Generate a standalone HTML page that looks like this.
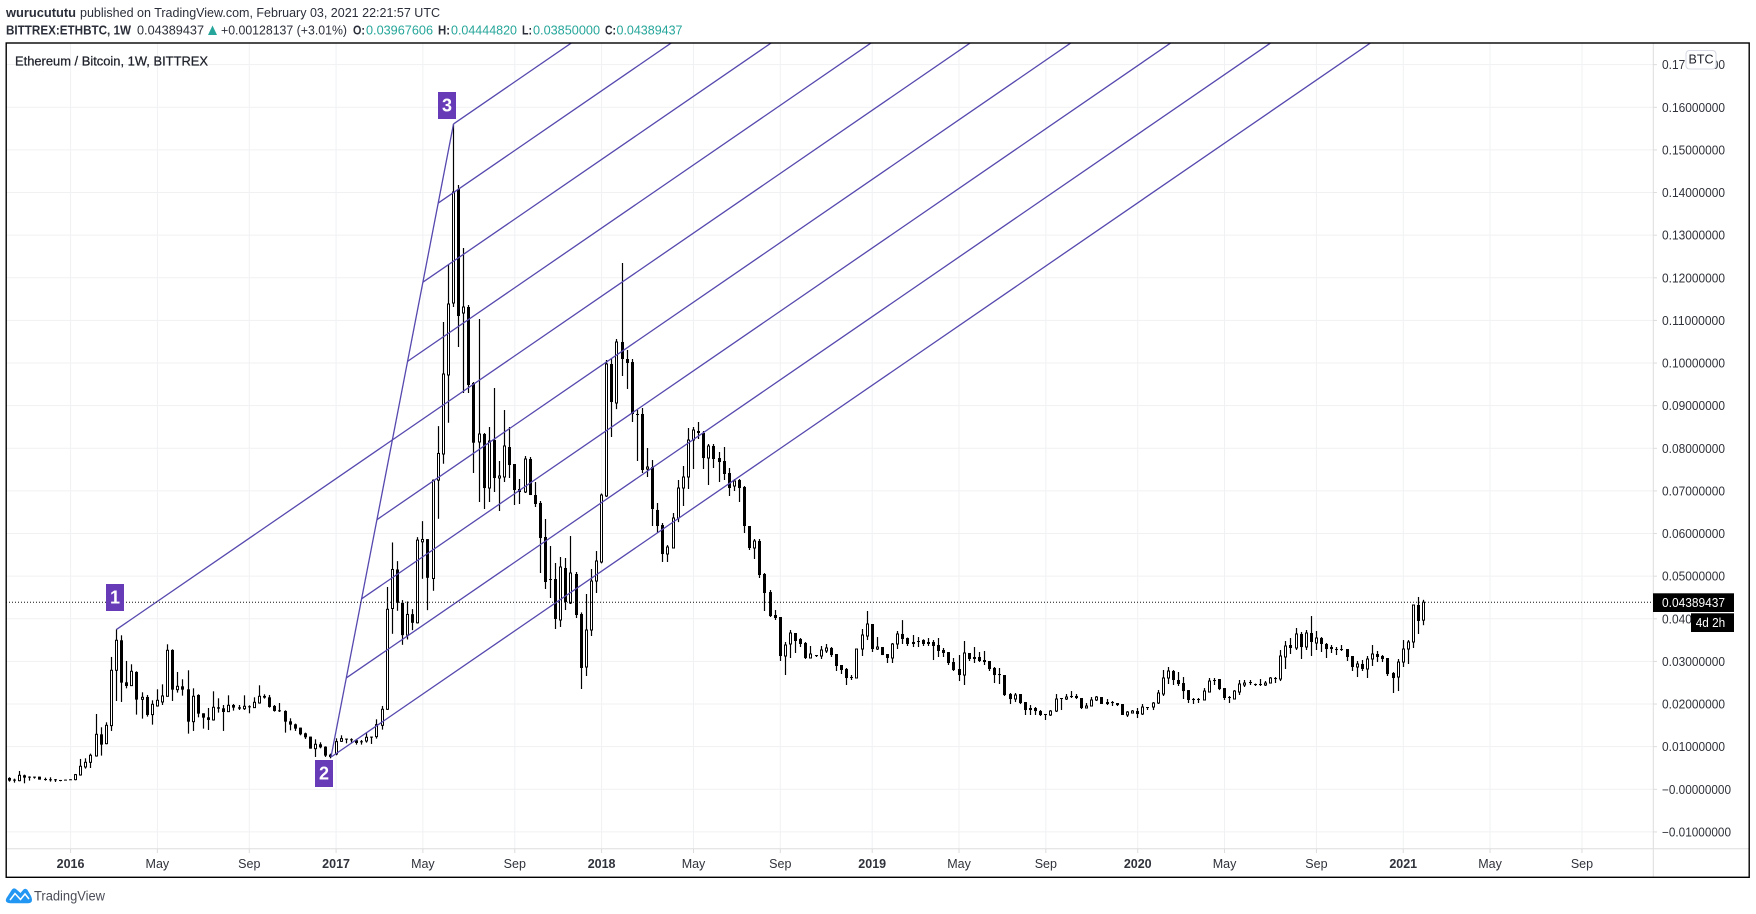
<!DOCTYPE html>
<html lang="en">
<head>
<meta charset="utf-8">
<title>ETHBTC chart</title>
<style>
html,body{margin:0;padding:0;background:#fff;width:1756px;height:914px;overflow:hidden}
svg{display:block;font-family:"Liberation Sans",sans-serif}
</style>
</head>
<body>
<svg id="chart" width="1756" height="914" viewBox="0 0 1756 914" xmlns="http://www.w3.org/2000/svg">
<defs><clipPath id="plot-clip"><rect x="6" y="43" width="1647" height="806"/></clipPath></defs>
<g fill="#2a2e39" font-size="13">
<text x="6" y="17" font-weight="bold" textLength="70" lengthAdjust="spacingAndGlyphs">wurucututu</text>
<text x="80" y="17" textLength="360" lengthAdjust="spacingAndGlyphs">published on TradingView.com, February 03, 2021 22:21:57 UTC</text>
</g>
<g font-size="13" fill="#2a2e39">
<text x="6" y="34.5" font-weight="bold" textLength="125" lengthAdjust="spacingAndGlyphs">BITTREX:ETHBTC, 1W</text>
<text x="137" y="34.5" textLength="67" lengthAdjust="spacingAndGlyphs">0.04389437</text>
<path d="M208 35 L212.5 25.5 L217 35 Z" fill="#26a69a"/>
<text x="221" y="34.5" textLength="126" lengthAdjust="spacingAndGlyphs">+0.00128137 (+3.01%)</text>
<text x="353" y="34.5" font-weight="bold" textLength="12" lengthAdjust="spacingAndGlyphs">O:</text>
<text x="366" y="34.5" fill="#26a69a" textLength="67" lengthAdjust="spacingAndGlyphs">0.03967606</text>
<text x="438" y="34.5" font-weight="bold" textLength="12" lengthAdjust="spacingAndGlyphs">H:</text>
<text x="451" y="34.5" fill="#26a69a" textLength="66" lengthAdjust="spacingAndGlyphs">0.04444820</text>
<text x="522" y="34.5" font-weight="bold" textLength="10" lengthAdjust="spacingAndGlyphs">L:</text>
<text x="533" y="34.5" fill="#26a69a" textLength="67" lengthAdjust="spacingAndGlyphs">0.03850000</text>
<text x="605" y="34.5" font-weight="bold" textLength="11" lengthAdjust="spacingAndGlyphs">C:</text>
<text x="616.5" y="34.5" fill="#26a69a" textLength="66" lengthAdjust="spacingAndGlyphs">0.04389437</text>
</g>
<g id="grid"></g>
<line x1="6" x2="1749" y1="848.7" y2="848.7" stroke="#dedede" stroke-width="1"/>
<line x1="1653.3" x2="1653.3" y1="43" y2="877" stroke="#dedede" stroke-width="1"/>
<g id="x-axis" font-size="12.5" fill="#2f323a" text-anchor="middle"></g>
<g id="y-axis" font-size="12.5" fill="#2f323a"></g>
<text x="15" y="65.5" font-size="13" fill="#20232c" stroke="#20232c" stroke-width="0.25" textLength="193" lengthAdjust="spacingAndGlyphs">Ethereum / Bitcoin, 1W, BITTREX</text>
<g id="candles" clip-path="url(#plot-clip)"></g>
<g id="fib" clip-path="url(#plot-clip)"></g>
<line id="last-line" x1="6" x2="1653" stroke="#111" stroke-width="1" stroke-dasharray="1 2"/>
<g id="labels"></g>
<g>
<rect x="1653" y="593.3" width="81" height="18.7" fill="#000"/>
<text x="1662" y="606.9" font-size="12.5" fill="#fff" textLength="63" lengthAdjust="spacingAndGlyphs">0.04389437</text>
</g>
<g>
<rect x="1691" y="613.3" width="43" height="18.7" fill="#000"/>
<text x="1695.7" y="627" font-size="12.5" fill="#fff" textLength="29.5" lengthAdjust="spacingAndGlyphs">4d 2h</text>
</g>
<g>
<rect x="1686" y="50.5" width="30" height="18.5" rx="3.5" fill="#fff" stroke="#d6d9e3" stroke-width="1"/>
<text x="1701" y="63.5" font-size="12.5" fill="#20232c" text-anchor="middle">BTC</text>
</g>
<rect x="6.2" y="43" width="1743" height="834.3" fill="none" stroke="#000" stroke-width="1.4"/>
<g>
<path d="M6.5 898 L12 889.5 Q14 887.3 16.5 889.5 L20.5 893 L23.5 889.5 Q25.5 887.7 27.5 890 L31 896 Q34 903 28 903.3 L10.5 903.3 Q4 903 6.5 898 Z" fill="#2196f3"/>
<path d="M10 900 L15 893.5 L20.5 899.5 L25 894 L29 899" fill="none" stroke="#fff" stroke-width="1.5"/>
<text x="34" y="900.3" font-size="13.5" fill="#4a4d57" textLength="71" lengthAdjust="spacingAndGlyphs">TradingView</text>
</g>
<script>
// Candle values are in units of 0.00001 BTC, one entry per weekly bar.
const priceUnit = 0.00001;
const opens = [266,227,203,328,297,297,297,242,235,235,219,227,235,227,336,524,633,782,1290,1071,
1494,2792,3496,2510,2432,2753,2111,2166,1752,1955,2049,2182,3269,2338,2416,2346,1587,2213,1783,1689,
1627,1924,1900,1822,1978,1924,1892,1947,1916,2025,2190,2158,1955,1853,1838,1595,1525,1447,1314,1236,
954,1056,1001,813,829,1126,1189,1173,1150,1126,1134,1236,1236,1501,1877,4242,5157,4375,3617,4109,
3906,5806,5869,4946,7253,7866,9720,11409,14083,11174,11315,9532,8148,8335,7068,8194,7303,7327,8030,7631,
7045,6975,7749,6904,6717,5919,4933,4933,3972,5192,4371,5051,4112,2869,3737,4886,5333,6881,9978,9063,
10494,10095,10024,8805,8805,7514,7560,6553,6200,5520,5661,6365,7068,7327,8194,8406,8359,7772,8054,7772,
7702,7420,7115,7256,7092,6177,5661,5825,5051,4628,4089,4042,3127,3409,3667,3526,3432,3080,3150,3127,
3245,3315,3174,2916,2822,2634,2611,3291,3596,3878,3291,3338,3174,3080,3409,3644,3549,3456,3479,3502,
3456,3456,3385,3268,3220,2986,2822,2681,3198,3104,3104,3033,3010,2846,2704,2681,2235,2118,2235,2047,
1907,1907,1836,1767,1743,1836,2142,2118,2189,2189,2142,1907,1954,2095,2165,2047,2047,2024,2001,1743,
1789,1836,1766,1930,1930,2024,2235,2611,2775,2564,2493,2328,2118,2118,2095,2282,2564,2587,2375,2165,
2118,2282,2447,2517,2470,2470,2447,2493,2611,2587,3104,3385,3315,3644,3338,3667,3432,3549,3409,3338,
3291,3291,3291,3127,2869,2940,2822,3057,3174,3127,3080,2728,2634,2986,3291,3456,4324,3968];
const highs = [282,250,430,344,305,297,297,274,282,242,219,227,235,360,712,727,837,1767,1455,1572,
3105,3754,3613,3011,2933,2768,2276,2213,2088,2346,2463,3402,3284,2753,2581,2792,2369,2229,1783,1908,
2299,2135,1978,2205,2002,1978,2205,1971,2158,2440,2229,2213,1978,2025,1853,1666,1541,1447,1329,1236,
1173,1103,1009,837,1196,1267,1189,1196,1181,1157,1337,1236,1642,1955,4747,5791,5353,4438,4407,4227,
5916,6291,5869,7269,8520,10963,12300,15608,14177,12699,11362,9555,11033,8359,8500,9415,7702,8898,8500,7631,
7280,7819,7796,7209,6764,6341,5708,5309,5450,5426,5942,5098,4150,4582,5168,5590,6940,10071,10095,10564,
12347,10306,10095,8898,8945,8007,7725,6717,6247,5730,6482,7256,7585,8476,8500,8617,8406,8101,8101,7913,
8030,7538,7279,7279,7115,6177,5872,5872,5074,4675,4206,4042,3456,3737,3667,3549,3456,3362,3150,3362,
3409,3338,3174,2916,2846,2681,3291,3761,4183,3878,3572,3338,3174,3432,3714,3969,3560,3620,3572,3520,
3549,3502,3549,3315,3220,3080,3150,3479,3198,3338,3221,3245,3010,2869,2846,2681,2259,2259,2235,2047,
1977,1930,1860,1767,1860,2235,2142,2235,2305,2235,2142,2024,2165,2189,2165,2118,2071,2024,2001,1836,
1860,1907,2001,1930,2047,2330,2799,2869,2799,2752,2634,2328,2142,2142,2375,2611,2611,2587,2375,2189,
2328,2564,2564,2564,2480,2587,2540,2634,2634,3268,3479,3549,3784,3691,3737,4065,3714,3572,3432,3385,
3338,3385,3291,3127,3010,3033,3127,3385,3245,3150,3080,2751,3057,3502,3502,4329,4512,4445];
const lows = [180,156,188,141,203,250,227,203,180,172,188,211,219,211,320,485,500,766,790,1056,
1369,2072,2049,2369,2424,1752,1658,1705,1517,1939,1978,2174,2072,2268,2197,1306,1369,1689,1423,1392,
1611,1799,1369,1814,1846,1861,1861,1783,1916,2010,2127,1916,1822,1814,1329,1384,1369,1267,1181,954,
759,962,759,727,798,1110,1079,1095,1048,1048,1095,1064,1189,1400,1861,3648,4188,3390,3515,3734,
3891,4938,4203,4657,6346,7639,8600,11315,10376,9297,9297,7420,6740,6576,6740,6975,6529,7209,7303,6670,
6693,6951,6904,6623,5074,4699,4488,3761,3808,4206,4347,4019,2353,2658,3596,4605,5300,6857,8265,8919,
9696,9392,8617,7702,7420,7327,6177,6013,5333,5333,5661,6268,6646,7045,7514,8218,7514,7139,7538,7209,
7256,6881,6998,6740,6013,5614,5403,4957,4183,4042,3972,3010,2681,3080,3198,3338,3057,3080,3104,3057,
3198,3104,2775,2705,2447,2564,2611,3127,3502,3221,3268,3150,2963,2963,3291,3409,3362,3338,3338,3362,
3362,3033,3104,3104,2916,2775,2540,2447,3010,2963,2986,2916,2775,2493,2470,2189,2000,2047,2000,1743,
1743,1743,1720,1626,1720,1813,1860,2095,2142,2118,1883,1907,1954,2071,2001,1977,1954,1954,1743,1696,
1789,1672,1743,1860,1860,2001,2189,2470,2447,2424,2118,2024,2001,2024,2095,2282,2447,2328,2095,2024,
2118,2212,2400,2447,2424,2424,2424,2493,2493,2540,2822,3174,3268,3057,3268,3127,3268,3221,3080,3198,
3150,3245,3010,2775,2634,2775,2611,2893,2986,2986,2658,2259,2305,2869,2940,3315,3644,3850];
const closes = [203,211,328,274,282,274,227,219,219,211,211,211,219,344,540,633,798,1290,1048,1501,
2792,3496,2502,2424,2768,2104,2158,1744,1994,2088,2190,3261,2338,2416,2338,1587,2182,1775,1681,1627,
1924,1892,1814,1971,1916,1892,1947,1932,2041,2182,2150,1932,1838,1830,1587,1517,1423,1290,1220,954,
1056,985,790,759,1118,1189,1173,1150,1087,1103,1220,1220,1517,1877,4223,5157,4375,3617,4102,3906,
5846,5861,4962,7253,7879,9743,11385,14013,11104,11315,9485,8131,8335,7068,8171,7303,7350,8054,7608,7022,
6975,7749,6904,6693,5896,4863,4910,3995,5215,4394,5074,4089,2846,3737,4886,5356,6904,9978,9086,10494,
10095,10001,8805,8781,7491,7561,6576,6177,5520,5684,6365,7068,7327,8194,8429,8359,7772,8054,7749,7678,
7397,7068,7233,7068,6177,5661,5825,5027,4605,4065,4019,3127,3385,3667,3479,3409,3080,3174,3140,3268,
3315,3150,2893,2799,2611,2611,3291,3620,3878,3291,3338,3150,3080,3409,3644,3526,3409,3409,3456,3409,
3409,3362,3245,3198,2963,2799,2681,3198,3057,3057,3010,2986,2822,2681,2681,2212,2118,2212,2024,1860,
1860,1836,1743,1743,1836,2118,2118,2165,2165,2142,1907,1954,2095,2165,2001,2001,2024,1977,1743,1813,
1836,1766,1930,1920,2024,2259,2611,2775,2564,2470,2305,2095,2095,2106,2305,2540,2540,2352,2142,2142,
2305,2470,2493,2493,2455,2447,2493,2611,2587,3127,3362,3315,3644,3338,3667,3456,3549,3409,3291,3291,
3268,3268,3104,2869,2940,2822,3057,3174,3104,3057,2704,2611,2986,3291,3456,4324,3949,4389];

const yTickValues = [0.17,0.16,0.15,0.14,0.13,0.12,0.11,0.10,0.09,0.08,0.07,0.06,0.05,0.04,0.03,0.02,0.01,0,-0.01];
const yTickLabels = ["0.17000000","0.16000000","0.15000000","0.14000000","0.13000000","0.12000000","0.11000000","0.10000000","0.09000000","0.08000000","0.07000000","0.06000000","0.05000000","0.04000000","0.03000000","0.02000000","0.01000000","\u22120.00000000","\u22120.01000000"];
const xTickBars = [12,29,47,64,81,99,116,134,151,169,186,203,221,238,256,273,290,308];
const xTickLabels = ["2016","May","Sep","2017","May","Sep","2018","May","Sep","2019","May","Sep","2020","May","Sep","2021","May","Sep"];
const channelLevels = [0,0.125,0.25,0.375,0.5,0.625,0.75,0.875,1];
const anchorBars = [21,63,87];
const anchorPrices = [0.0375,0.00755,0.1561];
const channelSlopePerBar = 0.000823;
const lastPrice = 0.04389437;

const NS = 'http://www.w3.org/2000/svg';
function xOf(bar){ return 9.3 + 5.106 * bar; }
function yOf(price){ return 789.3 - 4262.5 * price; }
function make(tag, parent, attrs){
  const node = document.createElementNS(NS, tag);
  for (const key in attrs) node.setAttribute(key, attrs[key]);
  parent.appendChild(node);
  return node;
}

const grid = document.getElementById('grid');
const xAxis = document.getElementById('x-axis');
const yAxis = document.getElementById('y-axis');

yTickValues.forEach(function(value, i){
  const y = yOf(value);
  const gridLine = make('line', grid, {x1:6, x2:1653, y1:y, y2:y, stroke:'#f0f1f3', 'stroke-width':1});
  
  
  const tick = make('line', yAxis, {x1:1653, x2:1657, y1:y, y2:y, stroke:'#dcdcdc', 'stroke-width':1});
  
  
  const label = make('text', yAxis, {x:1662, y:y + 4.5, textLength: value < 0.001 ? 69 : 63, lengthAdjust:'spacingAndGlyphs'});
  
  
  label.textContent = yTickLabels[i];
});

xTickBars.forEach(function(bar, i){
  const x = xOf(bar);
  const gridLine = make('line', grid, {x1:x, x2:x, y1:43, y2:849, stroke:'#f0f1f3', 'stroke-width':1});
  
  
  const tick = make('line', xAxis, {x1:x, x2:x, y1:849, y2:853, stroke:'#dcdcdc', 'stroke-width':1});
  
  
  const isYear = /^\d+$/.test(xTickLabels[i]);
  const label = make('text', xAxis, {x:x, y:868, 'font-weight': isYear ? 'bold' : 'normal'});
  
  
  label.textContent = xTickLabels[i];
});

const candleLayer = document.getElementById('candles');
opens.forEach(function(open, i){
  const close = closes[i];
  const cx = Math.floor(xOf(i)) + 0.5;
  const top = yOf(Math.max(open, close) * priceUnit);
  const bottom = yOf(Math.min(open, close) * priceUnit);
  const rising = close > open;
  const candle = make('g', candleLayer, {});
  
  
  const wick = make('line', candle, {x1:cx, x2:cx, y1:yOf(highs[i] * priceUnit), y2:yOf(lows[i] * priceUnit), stroke:'#000', 'stroke-width':1.2});
  
  
  let body;
  if (rising) {
    body = make('rect', candle, {x:cx - 1, y:top, width:2, height:Math.max(bottom - top, 1), fill:'#fff', stroke:'#000', 'stroke-width':1});
  } else {
    body = make('rect', candle, {x:cx - 1.5, y:top, width:3, height:Math.max(bottom - top, 1), fill:'#000'});
  }
  
  
});

const fib = document.getElementById('fib');
const purple = '#5548ae';
const leftEdge = make('line', fib, {x1:xOf(anchorBars[1]), y1:yOf(anchorPrices[1]), x2:xOf(anchorBars[2]), y2:yOf(anchorPrices[2]), stroke:purple, 'stroke-width':1.3});


channelLevels.forEach(function(level){
  let startBar = anchorBars[1] + level * (anchorBars[2] - anchorBars[1]);
  let startPrice = anchorPrices[1] + level * (anchorPrices[2] - anchorPrices[1]);
  if (level === 0.5) { startBar = anchorBars[0]; startPrice = anchorPrices[0]; }
  const run = 300;
  const channelLine = make('line', fib, {x1:xOf(startBar), y1:yOf(startPrice), x2:xOf(startBar + run), y2:yOf(startPrice + run * channelSlopePerBar), stroke:purple, 'stroke-width':1.3});
  
  
});

const lastLine = document.getElementById('last-line');
lastLine.setAttribute('y1', yOf(lastPrice));
lastLine.setAttribute('y2', yOf(lastPrice));

const labelLayer = document.getElementById('labels');
const waveLabels = ["1","2","3"];
const waveBoxes = [[106,584],[315,760],[438,92]];
waveLabels.forEach(function(text, i){
  const box = make('rect', labelLayer, {x:waveBoxes[i][0], y:waveBoxes[i][1], width:18, height:27, fill:'#673ab7'});
  
  
  const digit = make('text', labelLayer, {x:waveBoxes[i][0] + 9, y:waveBoxes[i][1] + 19.5, fill:'#fff', 'font-size':18, 'font-weight':'bold', 'text-anchor':'middle'});
  
  
  digit.textContent = text;
});
</script>
</svg>
</body>
</html>
